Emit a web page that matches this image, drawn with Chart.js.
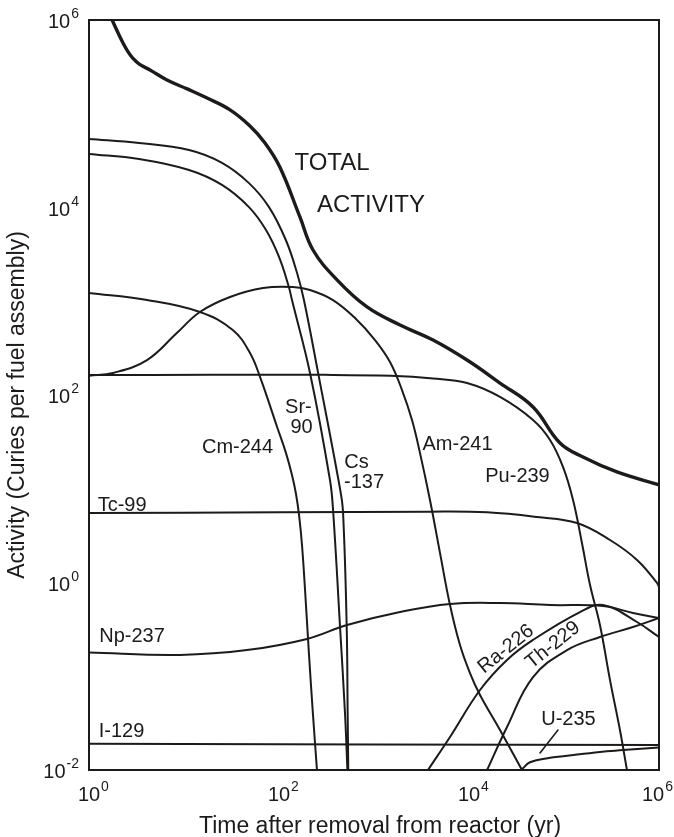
<!DOCTYPE html>
<html><head><meta charset="utf-8">
<script src="https://cdn.jsdelivr.net/npm/chart.js@4.4.1/dist/chart.umd.min.js"></script>
<style>html,body{margin:0;padding:0;background:#fff}canvas{display:block}</style>
</head><body>
<canvas id="c" width="674" height="837"></canvas>
<script>
// ---- tick labels (powers of ten) ----
const xTickExponents = [0, 2, 4, 6];
const yTickExponents = [-2, 0, 2, 4, 6];

// ---- series (years, curies per fuel assembly) ----
const totalX = [1.75, 1.98, 2.28, 2.57, 2.9, 3.38, 4.39, 6.62, 10.8, 17.5, 30.5, 49.5, 71.2, 102, 166, 228, 408, 844, 1879, 4180, 9530, 21200, 47200, 90700, 158500, 361000, 1000000];
const totalY = [1000000, 762000, 569000, 460000, 390000, 338000, 293000, 229000, 184000, 147000, 110000, 74000, 48700, 27000, 7930, 3520, 1690, 869, 558, 386, 236, 134, 74.5, 30.8, 21.8, 15.1, 11];

const cs137X = [1, 3.36, 11.3, 25.1, 48.3, 78.5, 118, 155, 183, 258, 439, 472, 516, 528, 536];
const cs137Y = [53800, 48800, 41000, 29900, 18200, 10100, 4500, 2000, 1030, 172, 10, 5.65, 0.335, 0.0406, 0.01];

const sr90X = [1, 3.36, 11.3, 25.1, 48.3, 73, 100, 127, 137, 212, 344, 372, 439, 495, 525];
const sr90Y = [37200, 32900, 25100, 17400, 10100, 5750, 2970, 1420, 1030, 172, 12.4, 5.65, 0.335, 0.0406, 0.01];

const cm244X = [1, 4.08, 14.7, 32.6, 49.5, 63.1, 95.5, 118.5, 137, 151, 162.5, 174.6, 188, 207, 228, 251];
const cm244Y = [1225, 1030, 768, 493, 281, 156, 45.6, 24.0, 14.0, 8.79, 5.25, 2.51, 0.832, 0.169, 0.0386, 0.01];

const am241X = [1, 1.79, 4.08, 8.4, 14.7, 30.5, 67.9, 140, 212, 370, 631, 1025, 1474, 1972, 2512, 3050, 3883, 4950, 6310, 8040, 10240, 13060, 21200, 36100];
const am241Y = [160, 172, 236, 458, 768, 1110, 1385, 1420, 1318, 1030, 663, 386, 225, 113, 54.1, 24.0, 7.59, 2.07, 0.575, 0.215, 0.108, 0.063, 0.0267, 0.01];

const pu239X = [1, 20, 300, 1500, 4180, 9530, 21200, 47200, 71300, 97600, 124500, 154500, 188000, 239000, 305000, 388000, 460000];
const pu239Y = [163, 164, 164, 160, 150, 134, 95.3, 54.1, 33.1, 17.1, 7.59, 2.64, 0.94, 0.352, 0.091, 0.0267, 0.01];

const tc99X = [1, 100, 3883, 15460, 52000, 137000, 305000, 587000, 953000, 1000000];
const tc99Y = [5.51, 5.6, 5.7, 5.6, 5.0, 4.31, 2.84, 1.74, 0.99, 0.895];

const np237X = [1, 9.1, 46, 197, 520, 1879, 6310, 21200, 71300, 257500, 532000, 1000000];
const np237Y = [0.179, 0.169, 0.19, 0.25, 0.352, 0.484, 0.59, 0.604, 0.575, 0.561, 0.473, 0.418];

const ra226X = [3700, 6310, 13060, 25120, 47200, 147300, 257500, 587000, 1000000];
const ra226Y = [0.01, 0.0225, 0.0713, 0.149, 0.244, 0.484, 0.575, 0.379, 0.262];

const th229X = [15500, 25120, 47200, 107600, 239000, 532000, 1000000];
const th229Y = [0.01, 0.0288, 0.098, 0.19, 0.262, 0.335, 0.418];

const u235X = [36500, 43900, 71300, 97600, 239000, 418000, 1000000];
const u235Y = [0.0103, 0.0121, 0.0135, 0.014, 0.0156, 0.0163, 0.0174];

const i129X = [1, 1000000];
const i129Y = [0.019, 0.0185];

const u235LeaderX = [55900, 86400];
const u235LeaderY = [0.0152, 0.0267];

// ---- curve annotations (text, anchor in data coords) ----
const curveLabels = [
  {text: 'TOTAL',    x: 361,    y: 25100,  size: 24},
  {text: 'ACTIVITY', x: 930,    y: 8950,   size: 24},
  {text: 'Sr-',      x: 160,    y: 64.3,   size: 20},
  {text: '90',       x: 173,    y: 39.3,   size: 20},
  {text: 'Cm-244',   x: 36.6,   y: 24.0,   size: 20},
  {text: 'Cs',       x: 654,    y: 16.6,   size: 20},
  {text: '-137',     x: 785,    y: 10.2,   size: 20},
  {text: 'Am-241',   x: 7570,   y: 25.9,   size: 20},
  {text: 'Pu-239',   x: 32400,  y: 11.8,   size: 20},
  {text: 'Tc-99',    x: 2.23,   y: 5.79,   size: 20},
  {text: 'Np-237',   x: 2.84,   y: 0.232,  size: 20},
  {text: 'I-129',    x: 2.2,    y: 0.0225, size: 20},
  {text: 'U-235',    x: 111500, y: 0.0302, size: 20},
  {text: 'Ra-226',   x: 24500,  y: 0.195,  size: 20, rot: -39},
  {text: 'Th-229',   x: 76600,  y: 0.215,  size: 20, rot: -39}
];

const FONT = '"Liberation Sans", Arial, Helvetica, sans-serif';
const INK = '#1d1a1a';

function pts(xs, ys) { return xs.map((x, i) => ({x: x, y: ys[i]})); }

const series = [
  {label: 'Total activity', xs: totalX, ys: totalY, w: 3.4},
  {label: 'Cs-137', xs: cs137X, ys: cs137Y, w: 2},
  {label: 'Sr-90', xs: sr90X, ys: sr90Y, w: 2},
  {label: 'Cm-244', xs: cm244X, ys: cm244Y, w: 2},
  {label: 'Am-241', xs: am241X, ys: am241Y, w: 2},
  {label: 'Pu-239', xs: pu239X, ys: pu239Y, w: 2},
  {label: 'Tc-99', xs: tc99X, ys: tc99Y, w: 2},
  {label: 'Np-237', xs: np237X, ys: np237Y, w: 2},
  {label: 'Ra-226', xs: ra226X, ys: ra226Y, w: 2},
  {label: 'Th-229', xs: th229X, ys: th229Y, w: 2},
  {label: 'U-235', xs: u235X, ys: u235Y, w: 2},
  {label: 'I-129', xs: i129X, ys: i129Y, w: 2},
  {label: 'U-235 pointer', xs: u235LeaderX, ys: u235LeaderY, w: 1.6}
];

const decor = {
  id: 'decor',
  afterDraw(chart) {
    const ctx = chart.ctx, a = chart.chartArea;
    const sx = chart.scales.x, sy = chart.scales.y;
    ctx.save();
    ctx.strokeStyle = INK; ctx.lineWidth = 2;
    ctx.strokeRect(a.left, a.top, a.right - a.left, a.bottom - a.top);
    ctx.fillStyle = INK;
    ctx.textBaseline = 'alphabetic';
    ctx.textAlign = 'left';
    sx.ticks.forEach(t => {
      const e = Math.round(Math.log10(t.value));
      const px = sx.getPixelForValue(t.value);
      ctx.font = '20px ' + FONT; const w10 = ctx.measureText('10').width;
      ctx.font = '14px ' + FONT; const ws = ctx.measureText(String(e)).width;
      let start = px - w10 / 2;
      if (start + w10 + 1 + ws > 673) start = 673 - w10 - 1 - ws;
      ctx.font = '20px ' + FONT; ctx.fillText('10', start, a.bottom + 31);
      ctx.font = '14px ' + FONT; ctx.fillText(String(e), start + w10 + 1, a.bottom + 21);
    });
    sy.ticks.forEach(t => {
      const e = Math.round(Math.log10(t.value));
      const py = sy.getPixelForValue(t.value);
      const es = e < 0 ? '-' + String(-e) : String(e);
      ctx.font = '20px ' + FONT; const w10 = ctx.measureText('10').width;
      ctx.font = '14px ' + FONT; const ws = ctx.measureText(es).width;
      const start = a.left - 10 - ws - 1 - w10;
      ctx.font = '20px ' + FONT; ctx.fillText('10', start, py + 8);
      ctx.font = '14px ' + FONT; ctx.fillText(es, start + w10 + 1, py - 2);
    });
    curveLabels.forEach(l => {
      const px = sx.getPixelForValue(l.x), py = sy.getPixelForValue(l.y);
      ctx.font = l.size + 'px ' + FONT;
      ctx.textAlign = 'center';
      if (l.rot) {
        ctx.save(); ctx.translate(px, py); ctx.rotate(l.rot * Math.PI / 180);
        ctx.textBaseline = 'middle'; ctx.fillText(l.text, 0, 0); ctx.restore();
      } else {
        ctx.textBaseline = 'alphabetic'; ctx.fillText(l.text, px, py);
      }
    });
    ctx.font = '23px ' + FONT; ctx.textAlign = 'center'; ctx.textBaseline = 'alphabetic';
    ctx.fillText('Time after removal from reactor (yr)', 380, 833);
    ctx.save(); ctx.translate(24, 405); ctx.rotate(-Math.PI / 2);
    ctx.fillText('Activity (Curies per fuel assembly)', 0, 0);
    ctx.restore();
    ctx.restore();
  }
};

new Chart(document.getElementById('c').getContext('2d'), {
  type: 'line',
  data: {
    datasets: series.map(s => ({
      label: s.label, data: pts(s.xs, s.ys), borderColor: INK, borderWidth: s.w,
      pointRadius: 0, fill: false, tension: 0.4, borderJoinStyle: 'round', borderCapStyle: 'round'
    }))
  },
  options: {
    responsive: false, animation: false, devicePixelRatio: 1,
    layout: {padding: {left: 89, right: 15, top: 20, bottom: 67}},
    plugins: {legend: {display: false}, tooltip: {enabled: false}},
    scales: {
      x: {type: 'logarithmic', min: 1, max: 1e6,
          grid: {display: false, drawTicks: false}, border: {display: false},
          ticks: {display: false},
          afterBuildTicks: s => { s.ticks = xTickExponents.map(e => ({value: Math.pow(10, e)})); }},
      y: {type: 'logarithmic', min: 0.01, max: 1e6,
          grid: {display: false, drawTicks: false}, border: {display: false},
          ticks: {display: false},
          afterBuildTicks: s => { s.ticks = yTickExponents.map(e => ({value: Math.pow(10, e)})); }}
    }
  },
  plugins: [decor]
});
</script>
</body></html>
